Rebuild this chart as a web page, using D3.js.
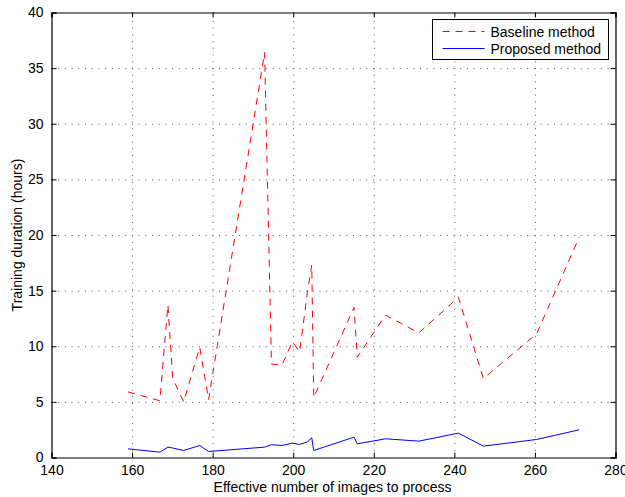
<!DOCTYPE html>
<html>
<head>
<meta charset="utf-8">
<title>Training duration</title>
<script src="https://cdn.jsdelivr.net/npm/d3@7"></script>
<style>
  body { margin: 0; background: #fff; }
  svg { font-family: "Liberation Sans", Arial, Helvetica, sans-serif; }
  .grid line { stroke: #555; stroke-width: 1; stroke-dasharray: 1, 5.7; }
  .grid path { display: none; }
  .axis path, .axis line { stroke: #000; }
  .axis text { font-size: 14px; fill: #000; }
</style>
</head>
<body>
<svg id="chart" width="625" height="497"></svg>
<script>
// effective number of images (shared by both series)
var images = [159, 166.9, 168.9, 170.1, 172.8, 176.8, 179.0, 192.9, 194.6, 197.2,
  199.8, 201.6, 203.5, 204.6, 205.1, 215.1, 215.9, 222.9, 231.2, 241.0, 247.2, 260.4, 271.0];
// training duration in hours
var baseline = [5.9, 5.1, 13.7, 7.1, 5.0, 9.9, 5.2, 36.4, 8.4, 8.3,
  10.4, 9.5, 14.8, 17.3, 5.4, 13.5, 9.0, 12.8, 11.2, 14.4, 7.1, 11.1, 19.8];
var proposed = [0.78, 0.48, 0.93, 0.85, 0.63, 1.08, 0.54, 0.93, 1.15, 1.08,
  1.29, 1.17, 1.40, 1.77, 0.63, 1.83, 1.23, 1.68, 1.47, 2.19, 1.02, 1.62, 2.49];
var xTicks = [140, 160, 180, 200, 220, 240, 260, 280];
var yTicks = [0, 5, 10, 15, 20, 25, 30, 35, 40];
var seriesNames = ["Baseline method", "Proposed method"];

var svg = d3.select("#chart");
var m = {left: 51.5, top: 12.5, right: 615.5, bottom: 457.5};
var w = m.right - m.left, h = m.bottom - m.top;

var x = d3.scaleLinear().domain([140, 280]).range([0, w]);
var y = d3.scaleLinear().domain([0, 40]).range([h, 0]);

var g = svg.append("g").attr("transform", "translate(" + m.left + "," + m.top + ")");

// dotted grid
g.append("g").attr("class", "grid")
  .attr("transform", "translate(0," + h + ")")
  .call(d3.axisBottom(x).tickValues(xTicks.slice(1, -1)).tickSize(-h).tickFormat(""));
g.append("g").attr("class", "grid")
  .call(d3.axisLeft(y).tickValues(yTicks.slice(1, -1)).tickSize(-w).tickFormat(""));

// data lines
var line = function(vals) {
  return d3.line().x(function(d, i) { return x(images[i]); })
    .y(function(d) { return y(d); })(vals);
};
g.append("path").attr("d", line(baseline))
  .attr("fill", "none").attr("stroke", "#ff0000").attr("stroke-width", 1)
  .attr("stroke-dasharray", "7,6");
g.append("path").attr("d", line(proposed))
  .attr("fill", "none").attr("stroke", "#0000ff").attr("stroke-width", 1);

// axes, ticks inside on all sides (box)
g.append("g").attr("class", "axis")
  .attr("transform", "translate(0," + h + ")")
  .call(d3.axisBottom(x).tickValues(xTicks).tickSize(-5).tickPadding(6).tickFormat(d3.format("d")))
  .selectAll("text").attr("dy", "0.85em");
g.append("g").attr("class", "axis")
  .call(d3.axisTop(x).tickValues(xTicks).tickSize(-5).tickFormat(""));
g.append("g").attr("class", "axis")
  .call(d3.axisLeft(y).tickValues(yTicks).tickSize(-5).tickPadding(8).tickFormat(d3.format("d")));
g.append("g").attr("class", "axis")
  .attr("transform", "translate(" + w + ",0)")
  .call(d3.axisRight(y).tickValues(yTicks).tickSize(-5).tickFormat(""));
g.selectAll(".axis path").attr("stroke-width", 1.2);

// axis labels
svg.append("text").attr("x", m.left + w / 2 - 1).attr("y", 492)
  .attr("text-anchor", "middle").attr("font-size", 14)
  .text("Effective number of images to process");
svg.append("text").attr("transform", "translate(22," + (m.top + h / 2) + ") rotate(-90)")
  .attr("text-anchor", "middle").attr("font-size", 14)
  .text("Training duration (hours)");

// legend
var lg = svg.append("g").attr("transform", "translate(432.5,19.5)");
lg.append("rect").attr("width", 176).attr("height", 40)
  .attr("fill", "#fff").attr("stroke", "#000").attr("stroke-width", 1);
var styles = [{c: "#ff0000", dash: "7,6"}, {c: "#0000ff", dash: null}];
seriesNames.forEach(function(name, i) {
  var yy = 12 + i * 17;
  lg.append("line").attr("x1", 10).attr("x2", 52).attr("y1", yy).attr("y2", yy)
    .attr("stroke", styles[i].c).attr("stroke-width", 1)
    .attr("stroke-dasharray", styles[i].dash);
  lg.append("text").attr("x", 58).attr("y", yy + 5).attr("font-size", 14).text(name);
});
</script>
</body>
</html>
